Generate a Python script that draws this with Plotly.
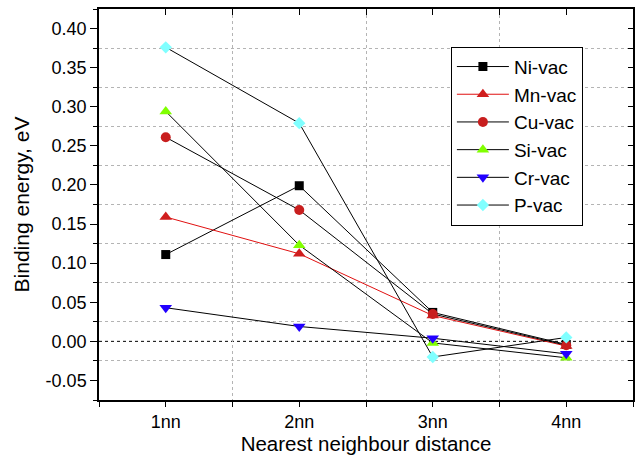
import numpy as np
import plotly.graph_objects as go

# ---- data ----
x_pos = [1, 2, 3, 4]
x_labels = ["1nn", "2nn", "3nn", "4nn"]

series_names = ["Ni-vac", "Mn-vac", "Cu-vac", "Si-vac", "Cr-vac", "P-vac"]
ni_vac = [0.111, 0.199, 0.037, -0.004]
mn_vac = [0.159, 0.112, 0.033, -0.006]
cu_vac = [0.261, 0.168, 0.035, -0.005]
si_vac = [0.294, 0.123, -0.002, -0.021]
cr_vac = [0.043, 0.019, 0.004, -0.016]
p_vac = [0.376, 0.279, -0.020, 0.005]

y_tick_vals = [-0.05, 0.00, 0.05, 0.10, 0.15, 0.20, 0.25, 0.30, 0.35, 0.40]
y_tick_text = ["-0.05", "0.00", "0.05", "0.10", "0.15", "0.20", "0.25", "0.30", "0.35", "0.40"]

# ---- styles ----
values = [ni_vac, mn_vac, cu_vac, si_vac, cr_vac, p_vac]
symbols = ["square", "triangle-up", "circle", "triangle-up", "triangle-down", "diamond"]
marker_colors = ["#000000", "#d01e1e", "#c81e1e", "#80ff00", "#2200ff", "#80ffff"]
line_colors = ["#000000", "#e01010", "#000000", "#000000", "#000000", "#000000"]
marker_sizes = [9, 11, 10, 11, 11, 9.5]

FONT = "Liberation Sans, Arial, sans-serif"

fig = go.Figure()
for name, vals, sym, mc, lc, ms in zip(series_names, values, symbols, marker_colors, line_colors, marker_sizes):
    fig.add_trace(go.Scatter(
        x=x_pos, y=vals, name=name, mode="lines+markers",
        line=dict(color=lc, width=1),
        marker=dict(symbol=sym, color=mc, size=ms, line=dict(width=0)),
    ))

# dummy trace to activate overlay axes
fig.add_trace(go.Scatter(x=[None], y=[None], xaxis="x2", yaxis="y2", showlegend=False, hoverinfo="skip"))

xr = [0.5, 4.5]
yr = [-0.075, 0.425]
half_steps = list(np.arange(0.5, 4.51, 0.5))
minor_y = [v for v in np.round(np.arange(-0.075, 0.4251, 0.025), 4) if abs(round(v / 0.05) * 0.05 - v) > 1e-6]
all_y = list(np.round(np.arange(-0.075, 0.4251, 0.025), 4))

fig.update_layout(
    width=637, height=458,
    margin=dict(l=99, r=4, t=9, b=58, autoexpand=False),
    paper_bgcolor="white", plot_bgcolor="white",
    font=dict(family=FONT, color="black"),
    showlegend=True,
    legend=dict(
        x=0.659, y=0.9036, xanchor="left", yanchor="top",
        bgcolor="white", bordercolor="black", borderwidth=1,
        font=dict(size=19, family=FONT), tracegroupgap=0, itemwidth=52,
    ),
    xaxis=dict(
        range=xr, tickmode="array", tickvals=x_pos, ticktext=x_labels,
        ticks="outside", ticklen=5, tickwidth=1, tickcolor="black",
        showline=True, linecolor="black", linewidth=1.5, mirror=True,
        showgrid=False, zeroline=False, automargin=False,
        tickfont=dict(size=18),
        title=dict(text="Nearest neighbour distance", font=dict(size=20.5), standoff=1),
        minor=dict(tickmode="array", tickvals=[1.5, 2.5, 3.5, 0.5, 4.5], ticks="outside",
                   ticklen=5, tickwidth=1, tickcolor="black",
                   showgrid=True, gridcolor="#b4b4b4", griddash="dot", gridwidth=1),
    ),
    yaxis=dict(
        range=yr, tickmode="array", tickvals=y_tick_vals, ticktext=y_tick_text,
        ticks="outside", ticklen=7, tickwidth=1, tickcolor="black",
        showline=True, linecolor="black", linewidth=1.5, mirror=True,
        showgrid=False, zeroline=False, automargin=False,
        tickfont=dict(size=18),
        title=dict(text="Binding energy, eV", font=dict(size=21), standoff=10),
        minor=dict(tickmode="array", tickvals=minor_y, ticks="outside",
                   ticklen=4, tickwidth=1, tickcolor="black",
                   showgrid=True, gridcolor="#b4b4b4", griddash="dot", gridwidth=1),
    ),
    xaxis2=dict(
        overlaying="x", side="top", range=xr, tickmode="array", tickvals=half_steps,
        showticklabels=False, ticks="inside", ticklen=6, tickwidth=1, tickcolor="black",
        showgrid=False, zeroline=False, showline=False, automargin=False,
    ),
    yaxis2=dict(
        overlaying="y", side="right", anchor="x", range=yr, tickmode="array", tickvals=all_y,
        showticklabels=False, ticks="inside", ticklen=5, tickwidth=1, tickcolor="black",
        showgrid=False, zeroline=False, showline=False, automargin=False,
    ),
    shapes=[dict(type="line", xref="paper", yref="y", x0=0, x1=1, y0=0, y1=0,
                 line=dict(color="black", width=1, dash="dot"), layer="below")],
)

fig.write_html("out.html", config={"displayModeBar": False},
               post_script="document.body.style.margin='0';document.body.style.padding='0';")
